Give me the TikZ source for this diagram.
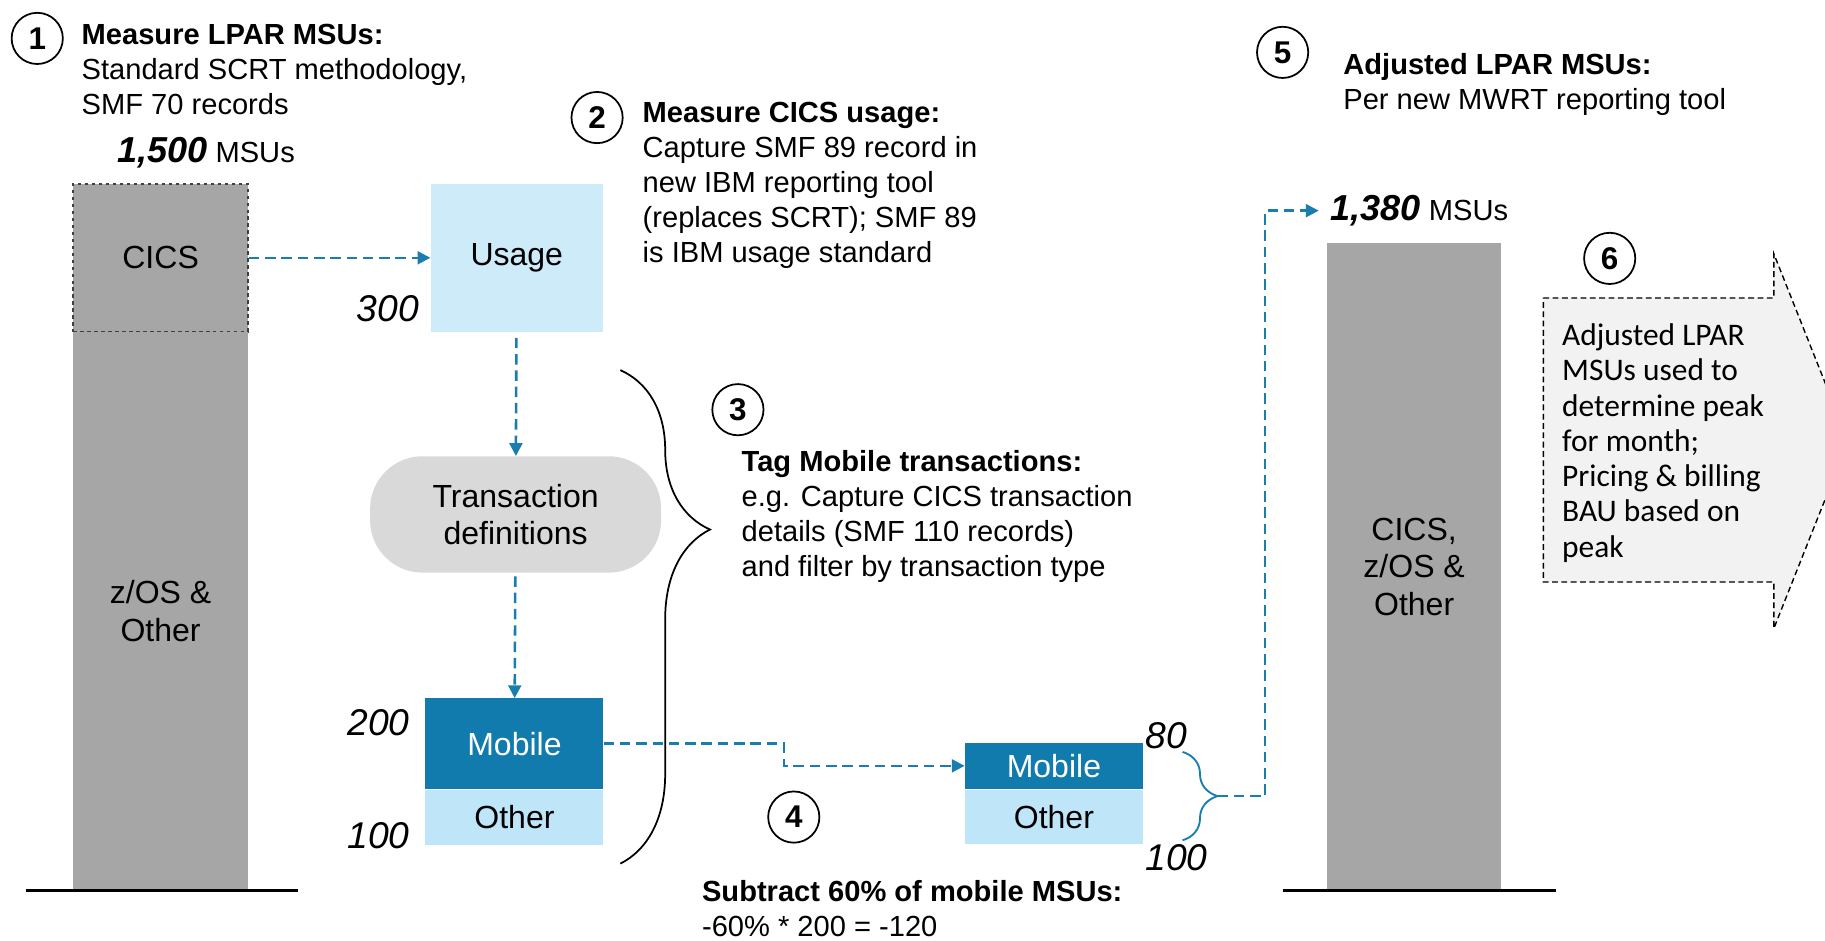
\documentclass[tikz,border=0pt]{standalone}
\usepackage{fontspec}
\setmainfont{Liberation Sans}
\newfontfamily\calfont{Carlito}
\usetikzlibrary{positioning, arrows.meta, decorations.pathreplacing}
\definecolor{mobblue}{HTML}{127BAE}
\definecolor{usgblue}{HTML}{CDEBF8}
\definecolor{othblue}{HTML}{BEE5F8}
\definecolor{lnkblue}{HTML}{1A7DB0}
\definecolor{bargray}{HTML}{A6A6A6}
\definecolor{defgray}{HTML}{D9D9D9}
\definecolor{notegray}{HTML}{F2F2F2}
\tikzset{
        every node/.style={inner sep=0pt, font=\fontsize{25}{30}\selectfont}, % default text
        boxtext/.style={font=\fontsize{27.5}{32}\selectfont}, % labels inside boxes
        bar/.style={boxtext, fill=bargray, minimum width=150pt, align=center}, % gray MSU columns
        seg/.style={boxtext, minimum width=153pt, align=center}, % blue pieces
        stepnum/.style={circle, draw, line width=1.5pt, minimum size=44pt, font=\fontsize{27}{30}\selectfont\bfseries},
        blurb/.style={anchor=north west, align=left}, % step texts
        msu/.style={font=\fontsize{32}{32}\selectfont\itshape},
        link/.style={lnkblue, line width=2.2pt, dash pattern=on 9pt off 5pt, -{Triangle[length=11pt, width=11pt]}},
        floor/.style={line width=2.5pt},
}
\newcommand\bigmsu[1]{{\fontsize{31}{31}\selectfont\bfseries\itshape #1}}

\begin{document}
\begin{tikzpicture}[x=1pt, y=-1pt]
      \useasboundingbox (0,0) rectangle (1568,808);
      % step 1
      \node[stepnum] (n1) at (32,33) {1};
      \node[blurb] (t1) at (70,21) {\textbf{Measure LPAR MSUs:}\\Standard SCRT methodology,\\SMF 70 records};
      \node (tot1) at (177,131) {\bigmsu{1,500} MSUs};
      \node[bar, minimum height=127pt, draw=black!75, dashed, line width=1.6pt] (cics) at (138,221.5) {CICS};
      \node[bar, minimum height=480pt] (zos) at (138,525) {z/OS \&\\Other};
      \draw[floor] (22,765) -- (256,765);
      % step 2
      \node[stepnum] (n2) at (513,101) {2};
      \node[blurb] (t2) at (552,88) {\textbf{Measure CICS usage:}\\Capture SMF 89 record in\\new IBM reporting tool\\(replaces SCRT); SMF 89\\is IBM usage standard};
      \node[boxtext, fill=usgblue, minimum width=148pt, minimum height=127pt] (usage) at (444,221.5) {Usage};
      \node[msu, anchor=east] (v300) at (360,265) {300};
      \node[boxtext, fill=defgray, rounded corners=45pt, minimum width=250pt, minimum height=100pt, align=center] (trans) at (443,442) {Transaction\\definitions};
      \node[seg, fill=mobblue, text=white, minimum height=78pt] (mob) at (442,639) {Mobile};
      \node[seg, fill=othblue, minimum height=48pt, below=0pt of mob] (oth) {Other};
      \node[msu, anchor=east] (v200) at (352,621) {200};
      \node[msu, anchor=east] (v100) at (352,718) {100};
      \draw[link] (cics) -- (usage);
      \draw[link, shorten <=5pt] (usage) -- (trans);
      \draw[link, shorten <=3pt] (trans) -- (mob);
      % step 3
      \draw[decorate, decoration={brace, amplitude=77pt, aspect=0.323}, line width=1.5pt] (533,318) -- (533,742);
      \node[stepnum] (n3) at (634,352) {3};
      \node[blurb] (t3) at (637,387) {\textbf{Tag Mobile transactions:}\\e.g. Capture CICS transaction\\details (SMF 110 records)\\and filter by transaction type};
      % step 4
      \node[stepnum] (n4) at (682,702) {4};
      \node[blurb] (t4) at (603,756) {\textbf{Subtract 60\% of mobile MSUs:}\\-60\% * 200 = -120};
      \node[seg, fill=mobblue, text=white, minimum height=40pt] (mob2) at (905.5,658) {Mobile};
      \node[seg, fill=othblue, minimum height=47pt, below=0pt of mob2] (oth2) {Other};
      \node[msu, anchor=west] (v80) at (984,632) {80};
      \node[msu, anchor=west] (v100b) at (984,737) {100};
      \draw[link] (mob.east) -- ++(155,0) |- (mob2);
      \draw[decorate, decoration={brace, amplitude=30pt}, lnkblue, line width=1.6pt] (1016,646) -- (1016,722);
      \coordinate (btip) at (1046,684);
      % step 5
      \node[stepnum] (n5) at (1102,45) {5};
      \node[blurb] (t5) at (1154,46) {\textbf{Adjusted LPAR MSUs:}\\Per new MWRT reporting tool};
      \node[anchor=west] (tot2) at (1143,181) {\bigmsu{1,380} MSUs};
      \node[bar, minimum height=556pt] (adj) at (1215,487) {CICS,\\z/OS \&\\Other};
      \draw[floor] (1102,765) -- (1337,765);
      \draw[link, shorten >=10pt] (btip) -- (1087,684) |- (tot2);
      % step 6
      \node[stepnum] (n6) at (1383,222) {6};
      \draw[fill=notegray, line width=1.2pt, dash pattern=on 5pt off 3pt] (1326,256) -- (1524,256) -- (1524,218) -- (1588,379) -- (1524,540) -- (1524,500) -- (1326,500) -- cycle;
      \node[blurb, font=\calfont\fontsize{27}{30.3}\selectfont] (t6) at (1342,278) {Adjusted LPAR\\MSUs used to\\determine peak\\for month;\\Pricing \& billing\\BAU based on\\peak};
\end{tikzpicture}
\end{document}
